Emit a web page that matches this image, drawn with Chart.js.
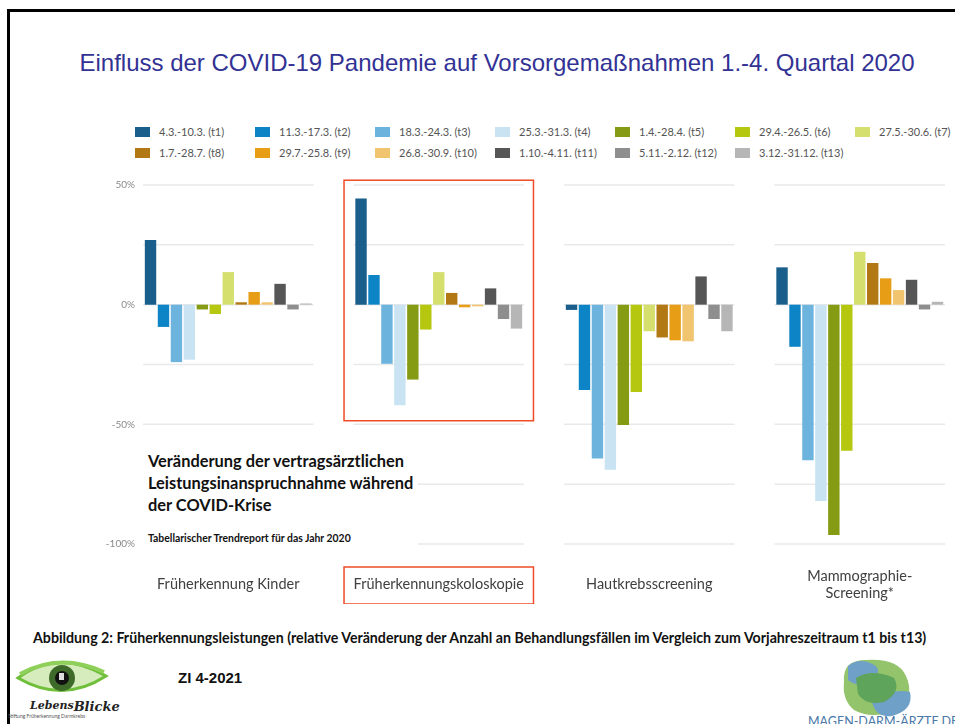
<!DOCTYPE html>
<html>
<head>
<meta charset="utf-8">
<script src="https://cdn.jsdelivr.net/npm/chart.js@4"></script>
<style>
  html, body { margin: 0; padding: 0; width: 955px; height: 724px; overflow: hidden; background: #fff; }
  body { position: relative; font-family: Lato, "Open Sans", sans-serif; }
  #frame { position: absolute; left: 7px; top: 9px; width: 1000px; height: 800px; border-left: 3px solid #000; border-top: 3px solid #000; }
  #title { position: absolute; left: 0; width: 994px; top: 49px; text-align: center; font-family: "Liberation Sans", Arial, sans-serif; font-size: 24px; color: #323294; white-space: nowrap; }
  #myChart { position: absolute; left: 0; top: 170px; }
  #legend { position: absolute; left: 135px; top: 121px; display: grid; grid-template-columns: repeat(7, 120px); grid-auto-rows: 21px; font-size: 11px; color: #555; white-space: nowrap; }
  #legend div { display: flex; align-items: center; }
  #legend span { display: inline-block; width: 15px; height: 10px; margin-right: 9px; }
  #note { position: absolute; left: 140px; top: 446px; width: 278px; height: 106px; background: #fff; }
  #note .big { position: absolute; left: 8px; top: 4px; font-weight: bold; font-size: 16.4px; line-height: 22px; color: #111; white-space: nowrap; }
  #note .small { position: absolute; left: 8px; top: 86px; font-weight: bold; font-size: 10.4px; color: #111; white-space: nowrap; }
  #caption { position: absolute; left: 33px; top: 629px; font-weight: bold; font-size: 14.2px; color: #111; white-space: nowrap; }
  #zi { position: absolute; left: 178px; top: 669px; font-family: "Liberation Sans", Arial, sans-serif; font-weight: bold; font-size: 15px; color: #111; }
  #logoL { position: absolute; left: 8px; top: 652px; }
  #logoR { position: absolute; left: 800px; top: 652px; }
</style>
</head>
<body>
<div id="frame"></div>
<div id="title">Einfluss der COVID-19 Pandemie auf Vorsorgemaßnahmen 1.-4. Quartal 2020</div>
<div id="legend"></div>
<canvas id="myChart" width="975" height="434"></canvas>
<div id="note">
  <div class="big">Veränderung der vertragsärztlichen<br>Leistungsinanspruchnahme während<br>der COVID-Krise</div>
  <div class="small">Tabellarischer Trendreport für das Jahr 2020</div>
</div>
<div id="caption">Abbildung 2: Früherkennungsleistungen (relative Veränderung der Anzahl an Behandlungsfällen im Vergleich zum Vorjahreszeitraum t1 bis t13)</div>
<div id="zi">ZI 4-2021</div>
<svg id="logoL" width="120" height="72" viewBox="0 0 120 72">
  <path d="M10 26 Q50 -4 98 24 Q55 52 10 26 Z" fill="#d6ecbc" stroke="#6fbf3a" stroke-width="3"/>
  <path d="M12 22 Q52 0 96 20" fill="none" stroke="#8fd05a" stroke-width="4"/>
  <circle cx="54" cy="26" r="13" fill="#3f6b2a"/>
  <circle cx="54" cy="26" r="7" fill="#111"/>
  <rect x="51" y="21" width="5" height="7" fill="#ddd"/>
  <text x="22" y="57" font-family="'DejaVu Serif', serif" font-style="italic" font-weight="bold" font-size="11" fill="#222">Lebens<tspan font-size="13" dy="2">Blicke</tspan></text>
  <text x="0" y="66" font-family="Lato, sans-serif" font-size="5" fill="#555">Stiftung Früherkennung Darmkrebs</text>
</svg>
<svg id="logoR" width="155" height="80" viewBox="0 0 155 80">
  <path d="M44 30 Q42 8 66 8 Q98 6 106 24 Q116 46 96 58 Q72 68 54 58 Q42 48 44 30 Z" fill="#93c36b"/>
  <path d="M48 14 Q60 4 76 14 Q82 22 70 30 Q58 36 48 28 Z" fill="#6ea0c8"/>
  <path d="M72 50 Q90 36 110 40 Q114 58 92 64 Q76 66 72 50 Z" fill="#6ea0c8"/>
  <path d="M56 26 Q72 16 94 26 Q102 40 84 50 Q66 54 58 42 Z" fill="#5ea45a"/>
  <text x="8" y="74" font-family="Lato, sans-serif" font-size="12.5" fill="#4a78a8">MAGEN-DARM-ÄRZTE.DE</text>
</svg>

<script>
const categories = ["Früherkennung Kinder", "Früherkennungskoloskopie", "Hautkrebsscreening", ["Mammographie-", "Screening*"]];

const periods = [
  "4.3.-10.3. (t1)", "11.3.-17.3. (t2)", "18.3.-24.3. (t3)", "25.3.-31.3. (t4)",
  "1.4.-28.4. (t5)", "29.4.-26.5. (t6)", "27.5.-30.6. (t7)", "1.7.-28.7. (t8)",
  "29.7.-25.8. (t9)", "26.8.-30.9. (t10)", "1.10.-4.11. (t11)", "5.11.-2.12. (t12)", "3.12.-31.12. (t13)"
];

const colors = [
  "#1a5f8c", "#0d84c6", "#6cb4de", "#c9e3f3", "#869b14", "#b6c70f", "#d4df6d",
  "#b27814", "#e89d16", "#f1c46f", "#565656", "#8e8e8e", "#b6b6b6"
];

// relative change in % vs. previous year, one value per period t1..t13
const kinder = [27, -9.3, -24, -23, -2, -3.9, 13.6, 1, 5.3, 1, 8.7, -2, 0.5];
const koloskopie = [44.4, 12.4, -24.7, -42, -31.3, -10.4, 13.6, 4.9, -1.1, -0.7, 6.8, -6, -10];
const haut = [-2.2, -35.7, -64.3, -69, -50.3, -36.5, -11.1, -13.7, -14.9, -15.3, 11.8, -6, -11.1];
const mammo = [15.6, -17.6, -65, -82, -96.2, -61, 22.1, 17.4, 11, 6.1, 10.4, -2, 1.2];

const yTicks = [-100, -50, 0, 50];

document.addEventListener("DOMContentLoaded", chart);

function chart() {
  const ctx = document.getElementById("myChart");
  Chart.defaults.font.family = "Lato, 'Open Sans', sans-serif";

  const datasets = periods.map((label, i) => ({
    label: label,
    data: [kinder[i], koloskopie[i], haut[i], mammo[i]],
    backgroundColor: colors[i],
    borderWidth: 0,
    categoryPercentage: 0.8,
    barPercentage: 0.88,
  }));

  // grid lines only under each group of bars, labels and red frames
  const panelGrid = {
    id: "panelGrid",
    beforeDatasetsDraw(chart) {
      const x = chart.scales.x;
      const y = chart.scales.y;
      const half = (x.getPixelForValue(1) - x.getPixelForValue(0)) / 2;
      const c = chart.ctx;
      c.save();
      c.strokeStyle = "#e9e9e9";
      c.lineWidth = 1.5;
      y.ticks.forEach((t) => {
        const py = y.getPixelForValue(t.value);
        categories.forEach((cat, i) => {
          const px = x.getPixelForValue(i);
          c.beginPath();
          c.moveTo(px - half * 0.81, py);
          c.lineTo(px + half * 0.81, py);
          c.stroke();
        });
      });
      c.restore();
    },
    afterDraw(chart) {
      const x = chart.scales.x;
      const y = chart.scales.y;
      const c = chart.ctx;
      c.save();
      // y labels sit a bit inside the plot area
      c.fillStyle = "#8a8a8a";
      c.font = "10px Lato, sans-serif";
      c.textAlign = "right";
      c.textBaseline = "middle";
      yTicks.forEach((v) => {
        c.fillText(v + "%", chart.chartArea.left + 12, y.getPixelForValue(v));
      });
      // red frames around the colonoscopy group
      const half = (x.getPixelForValue(1) - x.getPixelForValue(0)) / 2;
      const px = x.getPixelForValue(1);
      c.strokeStyle = "#ef4b26";
      c.lineWidth = 1.5;
      const top = y.getPixelForValue(52);
      const bot = y.getPixelForValue(-48.5);
      c.strokeRect(px - half * 0.9, top, half * 1.8, bot - top);
      const b = chart.chartArea.bottom;
      c.strokeRect(px - half * 0.9, b + 23, half * 1.8, 37);
      c.restore();
    },
  };

  new Chart(ctx, {
    type: "bar",
    data: { labels: categories, datasets: datasets },
    plugins: [panelGrid],
    options: {
      responsive: false,
      animation: false,
      layout: { padding: { top: 15, right: 10, left: 0, bottom: 0 } },
      plugins: { legend: { display: false }, tooltip: { enabled: false } },
      scales: {
        x: {
          grid: { display: false, drawTicks: false },
          border: { display: false },
          afterFit: (s) => { s.height = 60; },
          ticks: {
            padding: 32,
            crossAlign: "center",
            color: "#404040",
            font: { size: 14.5 },
            maxRotation: 0,
            autoSkip: false,
          },
        },
        y: {
          min: -100,
          max: 50,
          grid: { display: false, drawTicks: false },
          border: { display: false },
          afterFit: (s) => { s.width = 123; },
          ticks: { stepSize: 25, display: false },
        },
      },
    },
  });

  // legend in two rows, same columns
  const legend = document.getElementById("legend");
  datasets.forEach((ds) => {
    const item = document.createElement("div");
    const box = document.createElement("span");
    box.style.background = ds.backgroundColor;
    item.appendChild(box);
    item.appendChild(document.createTextNode(ds.label));
    legend.appendChild(item);
  });
}
</script>
</body>
</html>
